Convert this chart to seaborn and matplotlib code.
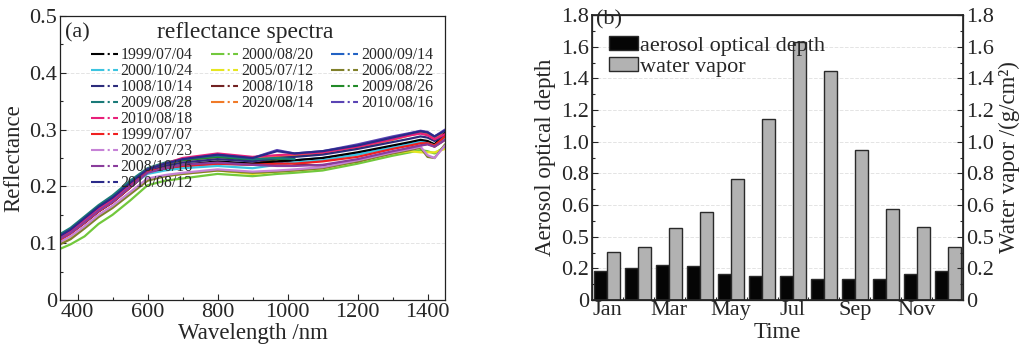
import numpy as np
import pandas as pd
import matplotlib
matplotlib.use('Agg')
import matplotlib.pyplot as plt
from matplotlib.lines import Line2D
from matplotlib.ticker import MultipleLocator
import seaborn as sns

sns.set_theme(style='ticks')
plt.rcParams['font.family'] = ['Liberation Serif', 'DejaVu Serif']
plt.rcParams['xtick.direction'] = 'in'
plt.rcParams['ytick.direction'] = 'in'

nan = np.nan

# ---- (a) reflectance spectra ----
wavelength = [350, 380, 420, 460, 500, 550, 600, 650, 700, 800, 900, 970, 1020,
              1100, 1200, 1300, 1350, 1380, 1400, 1420, 1450]

r_19990704 = [0.108, 0.118, 0.136, 0.156, 0.172, 0.198, 0.224, 0.232, 0.238, 0.244, 0.240, 0.244, 0.246, 0.250, 0.260, 0.272, 0.278, 0.282, 0.280, 0.274, 0.294]
r_20001024 = [0.110, 0.120, 0.138, 0.158, 0.174, 0.200, 0.222, 0.228, 0.232, 0.236, 0.232, 0.238, 0.242, 0.246, 0.256, 0.268, 0.274, 0.278, 0.276, 0.272, 0.285]
r_10081014 = [0.112, 0.122, 0.142, 0.162, 0.178, 0.204, 0.228, 0.236, 0.242, 0.248, 0.244, 0.250, 0.252, 0.256, 0.266, 0.278, 0.284, 0.288, 0.286, 0.280, 0.290]
r_20090828 = [0.116, 0.127, 0.147, 0.167, 0.184, 0.210, 0.232, 0.242, 0.248, 0.254, 0.248, 0.250, 0.248, nan, nan, nan, nan, nan, nan, nan, nan]
r_20100818 = [0.110, 0.121, 0.141, 0.161, 0.177, 0.203, 0.230, 0.240, 0.250, 0.258, 0.252, 0.255, 0.257, 0.260, 0.270, 0.283, 0.290, 0.293, 0.290, 0.283, 0.292]
r_19990707 = [0.106, 0.117, 0.136, 0.156, 0.172, 0.198, 0.226, 0.232, 0.236, 0.240, 0.238, 0.240, 0.240, 0.244, 0.252, 0.266, 0.272, 0.276, 0.276, 0.272, 0.288]
r_20020723 = [0.102, 0.112, 0.130, 0.150, 0.166, 0.190, 0.214, 0.220, 0.224, 0.230, 0.226, 0.228, 0.230, 0.234, 0.246, 0.260, 0.266, 0.270, 0.255, 0.250, 0.272]
r_20081016 = [0.108, 0.118, 0.137, 0.157, 0.173, 0.199, 0.224, 0.232, 0.238, 0.242, 0.238, 0.236, 0.236, 0.238, 0.248, 0.262, 0.268, 0.272, 0.274, 0.270, 0.282]
r_20100812 = [0.113, 0.124, 0.144, 0.164, 0.180, 0.206, 0.230, 0.240, 0.248, 0.256, 0.250, 0.262, 0.258, 0.262, 0.272, 0.286, 0.293, 0.297, 0.295, 0.288, 0.298]
r_20000820 = [0.090, 0.098, 0.112, 0.134, 0.150, 0.175, 0.202, 0.210, 0.214, 0.222, 0.218, 0.222, 0.224, 0.228, 0.240, 0.254, 0.260, 0.264, 0.262, 0.258, 0.270]
r_20050712 = [0.100, 0.110, 0.128, 0.148, 0.164, 0.188, 0.212, 0.218, 0.222, 0.228, 0.222, 0.226, 0.228, 0.232, 0.244, 0.258, 0.262, 0.260, 0.260, 0.260, 0.266]
r_20081018 = [0.106, 0.117, 0.136, 0.156, 0.172, 0.198, 0.224, 0.230, 0.236, 0.242, 0.240, 0.248, 0.240, 0.236, 0.244, 0.260, 0.268, 0.272, 0.275, 0.270, 0.282]
r_20200814 = [0.110, 0.121, 0.140, 0.160, 0.176, 0.202, 0.228, 0.238, 0.246, 0.252, 0.248, 0.252, 0.254, 0.258, 0.268, 0.282, 0.290, 0.294, 0.292, 0.286, 0.294]
r_20000914 = [0.109, 0.119, 0.138, 0.158, 0.174, 0.200, 0.224, 0.232, 0.236, 0.240, 0.238, 0.242, 0.246, 0.250, 0.258, 0.270, 0.276, 0.280, 0.278, 0.274, 0.286]
r_20060822 = [0.098, 0.107, 0.126, 0.146, 0.162, 0.186, 0.210, 0.218, 0.222, 0.228, 0.224, 0.226, 0.228, 0.232, 0.244, 0.258, 0.264, 0.268, 0.252, 0.250, 0.274]
r_20090826 = [0.114, 0.125, 0.145, 0.165, 0.182, 0.208, 0.230, 0.240, 0.246, 0.252, 0.246, 0.248, 0.248, nan, nan, nan, nan, nan, nan, nan, nan]
r_20100816 = [0.112, 0.124, 0.144, 0.164, 0.180, 0.205, 0.228, 0.240, 0.248, 0.256, 0.250, 0.264, 0.258, 0.262, 0.274, 0.288, 0.294, 0.298, 0.296, 0.288, 0.300]

col1 = [('1999/07/04', r_19990704, '#000000'),
        ('2000/10/24', r_20001024, '#3cc4e0'),
        ('1008/10/14', r_10081014, '#2c2c7c'),
        ('2009/08/28', r_20090828, '#1a7a78'),
        ('2010/08/18', r_20100818, '#e8207a'),
        ('1999/07/07', r_19990707, '#f02020'),
        ('2002/07/23', r_20020723, '#c682d6'),
        ('2008/10/16', r_20081016, '#8a3c9c'),
        ('2010/08/12', r_20100812, '#2a2a8a')]
col2 = [('2000/08/20', r_20000820, '#72c83c'),
        ('2005/07/12', r_20050712, '#e6e620'),
        ('2008/10/18', r_20081018, '#722222'),
        ('2020/08/14', r_20200814, '#f07a28')]
col3 = [('2000/09/14', r_20000914, '#2262c4'),
        ('2006/08/22', r_20060822, '#80802a'),
        ('2009/08/26', r_20090826, '#228a28'),
        ('2010/08/16', r_20100816, '#5a44b4')]

# ---- (b) monthly aerosol optical depth and water vapour ----
months = ['Jan', 'Feb', 'Mar', 'Apr', 'May', 'Jun', 'Jul', 'Aug', 'Sep', 'Oct', 'Nov', 'Dec']
aod = [0.183, 0.204, 0.221, 0.213, 0.162, 0.152, 0.152, 0.133, 0.133, 0.133, 0.162, 0.183]
vapor = [0.303, 0.333, 0.453, 0.556, 0.764, 1.145, 1.632, 1.445, 0.947, 0.575, 0.461, 0.333]
ytick_labels_b = ['0', '0.2', '0.5', '0.6', '0.8', '1.0', '1.2', '1.4', '1.6', '1.8']

fig = plt.figure(figsize=(10.28, 3.45), dpi=100)
ax1 = fig.add_axes([0.0584, 0.1304, 0.3745, 0.8232])
ax2 = fig.add_axes([0.5759, 0.1304, 0.3609, 0.8261])

TICK_FS = 16
LABEL_FS = 16.5

# panel a
rows = []
for group in (col1, col2, col3):
    for name, vals, c in group:
        for w, v in zip(wavelength, vals):
            rows.append((name, w, v))
spec = pd.DataFrame(rows, columns=['date', 'wavelength', 'reflectance'])
palette = {n: c for g in (col1, col2, col3) for n, _, c in g}
draw_order = [n for n, _, _ in col2 + col3 + col1]
sns.lineplot(data=spec, x='wavelength', y='reflectance', hue='date', hue_order=draw_order,
             palette=palette, estimator=None, sort=False, linewidth=1.6, legend=False, ax=ax1)

ax1.set_xlim(350, 1450)
ax1.set_ylim(0, 0.5)
ax1.set_xticks([400, 600, 800, 1000, 1200, 1400])
ax1.xaxis.set_minor_locator(MultipleLocator(100))
ax1.set_yticks([0, 0.1, 0.2, 0.3, 0.4, 0.5])
ax1.set_yticklabels(['0', '0.1', '0.2', '0.3', '0.4', '0.5'])
ax1.yaxis.set_minor_locator(MultipleLocator(0.05))
ax1.tick_params(which='major', length=4, width=0.8, labelsize=TICK_FS, pad=2)
ax1.tick_params(which='minor', length=2.5, width=0.8)
ax1.grid(axis='y', color='#e4e4e4', linewidth=0.7, linestyle='--')
ax1.set_xlabel('Wavelength /nm', fontsize=LABEL_FS, labelpad=1)
ax1.set_ylabel('Reflectance', fontsize=LABEL_FS, labelpad=4)
for s in ax1.spines.values():
    s.set_linewidth(0.9)
    s.set_color('#222222')
ax1.text(0.012, 0.975, '(a)', transform=ax1.transAxes, fontsize=16, va='top', ha='left')
ax1.text(0.48, 0.98, 'reflectance spectra', transform=ax1.transAxes, fontsize=17,
         va='top', ha='center')

legend_pos = [(0.08, 0.89), (0.392, 0.89), (0.705, 0.89)]
groups = (col1, col2, col3)
for i, (group, pos) in enumerate(zip(groups, legend_pos)):
    handles = [Line2D([], [], color=c, linestyle='-.', linewidth=1.5) for _, _, c in group]
    leg = ax1.legend(handles, [n for n, _, _ in group], loc='upper left', bbox_to_anchor=pos,
                     frameon=False, fontsize=11.3, handlelength=1.7, handletextpad=0.2,
                     labelspacing=0.0, borderaxespad=0, borderpad=0)
    if i < len(groups) - 1:
        ax1.add_artist(leg)

# panel b
bars = pd.DataFrame({
    'month': months * 2,
    'value': aod + vapor,
    'series': ['aerosol optical depth'] * 12 + ['water vapor'] * 12,
})
sns.barplot(data=bars, x='month', y='value', hue='series',
            palette={'aerosol optical depth': '#050505', 'water vapor': '#b2b2b2'},
            width=0.84, edgecolor='#2a2a2a', linewidth=1.0, saturation=1, ax=ax2)
ax2.set_xlim(-0.5, 11.5)
ax2.set_ylim(0, 1.8)
ax2.set_xticks(range(0, 12, 2))
ax2.set_xticklabels(months[::2])
ax2.set_xticks(np.arange(0.5, 11.5, 1), minor=True)
ax2.set_yticks(np.arange(0, 1.81, 0.2))
ax2.set_yticklabels(ytick_labels_b)
ax2.yaxis.set_minor_locator(MultipleLocator(0.1))
ax2.tick_params(which='major', length=4, width=0.8, labelsize=TICK_FS, pad=2)
ax2.tick_params(axis='x', which='major', length=0, pad=1)
ax2.tick_params(which='minor', length=2.5, width=0.8)
ax2.grid(axis='y', color='#e4e4e4', linewidth=0.7, linestyle='--')
ax2.set_axisbelow(True)
ax2.set_xlabel('Time', fontsize=LABEL_FS, labelpad=1)
ax2.set_ylabel('Aerosol optical depth', fontsize=LABEL_FS, labelpad=4)
for s in ax2.spines.values():
    s.set_linewidth(0.9)
    s.set_color('#222222')
h, l = ax2.get_legend_handles_labels()
ax2.legend(h, l, loc='upper left', bbox_to_anchor=(0.045, 0.925), frameon=False,
           fontsize=16, handlelength=1.3, handleheight=0.6, handletextpad=0.1,
           labelspacing=0.05, borderaxespad=0, borderpad=0)
ax2.text(0.01, 1.015, '(b)', transform=ax2.transAxes, fontsize=16, va='top', ha='left')

tw = ax2.twinx()
tw.set_ylim(0, 1.8)
tw.set_yticks(np.arange(0, 1.81, 0.2))
tw.set_yticklabels(ytick_labels_b)
tw.yaxis.set_minor_locator(MultipleLocator(0.1))
tw.tick_params(which='major', length=4, width=0.8, labelsize=TICK_FS, pad=2)
tw.tick_params(which='minor', length=2.5, width=0.8)
tw.set_ylabel('Water vapor /(g/cm²)', fontsize=LABEL_FS, labelpad=4)

fig.savefig('out.png', dpi=100)
